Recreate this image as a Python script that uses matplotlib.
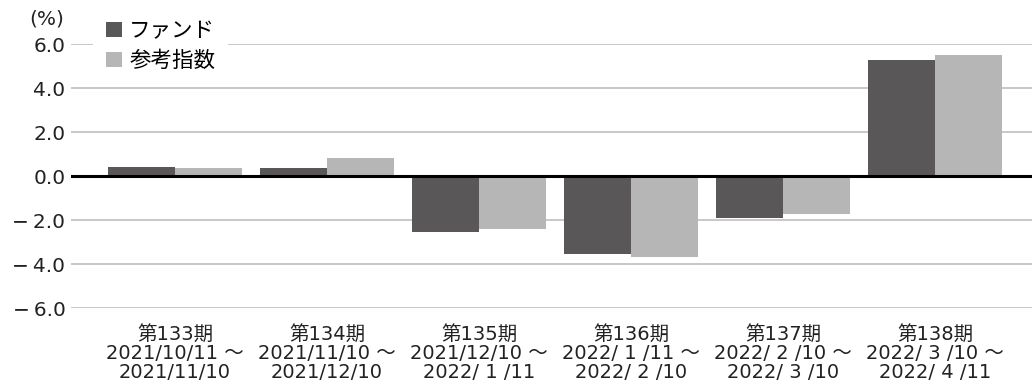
import numpy as np
import matplotlib
matplotlib.use('Agg')
import matplotlib.pyplot as plt

plt.rcParams['font.family'] = ['DejaVu Sans', 'Noto Sans CJK JP']

# data ======================================================
periods = ['第133期', '第134期', '第135期', '第136期', '第137期', '第138期']
ranges = ['2021/10/11 ～\n2021/11/10',
          '2021/11/10 ～\n2021/12/10',
          '2021/12/10 ～\n2022/ 1 /11',
          '2022/ 1 /11 ～\n2022/ 2 /10',
          '2022/ 2 /10 ～\n2022/ 3 /10',
          '2022/ 3 /10 ～\n2022/ 4 /11']
fund = [0.40, 0.35, -2.55, -3.55, -1.90, 5.27]
index = [0.35, 0.80, -2.40, -3.67, -1.72, 5.50]
yticks = [-6.0, -4.0, -2.0, 0.0, 2.0, 4.0, 6.0]

# plot =====================================================
fig = plt.figure(figsize=(10.32, 3.86), dpi=100)
ax = fig.add_axes([71 / 1032, 78 / 386, 961 / 1032, 264 / 386])

x = np.arange(len(periods))
w = 0.441
ax.bar(x - w / 2, fund, w, color='#595757', label='ファンド', zorder=3)
ax.bar(x + w / 2, index, w, color='#b5b6b5', label='参考指数', zorder=3)

ax.set_ylim(-6, 6)
ax.set_xlim(-0.684, 5.638)
ax.set_yticks(yticks)
ax.set_yticklabels([('−\u2009' if v < 0 else '') + '%.1f' % abs(v) for v in yticks],
                   fontsize=14.5, color='#222222')
ax.yaxis.grid(True, color='#c4c4c4', lw=1.3, zorder=0)
ax.tick_params(axis='y', length=0, pad=4)
ax.axhline(0, color='black', lw=2.2, zorder=4)
for s in ax.spines.values():
    s.set_visible(False)
ax.set_xticks(x)
ax.set_xticklabels([p + '\n' + r for p, r in zip(periods, ranges)],
                   fontsize=14, linespacing=1.0, color='#222222')
ax.tick_params(axis='x', length=0, pad=12)

fig.text(29 / 1032, 1 - 19 / 386, '(%)', fontsize=14.5, va='center', color='#222222')

leg = ax.legend(loc='upper left', bbox_to_anchor=(93 / 1032, 1 - 8 / 386),
                bbox_transform=fig.transFigure, fontsize=15.5,
                handlelength=0.75, handleheight=0.7, handletextpad=0.33,
                labelspacing=0.45, borderpad=0.6, borderaxespad=0,
                frameon=True, fancybox=False)
leg.get_frame().set_facecolor('white')
leg.get_frame().set_edgecolor('none')
leg.get_frame().set_alpha(1)
leg.set_zorder(5)

fig.savefig('out.png', dpi=100)
